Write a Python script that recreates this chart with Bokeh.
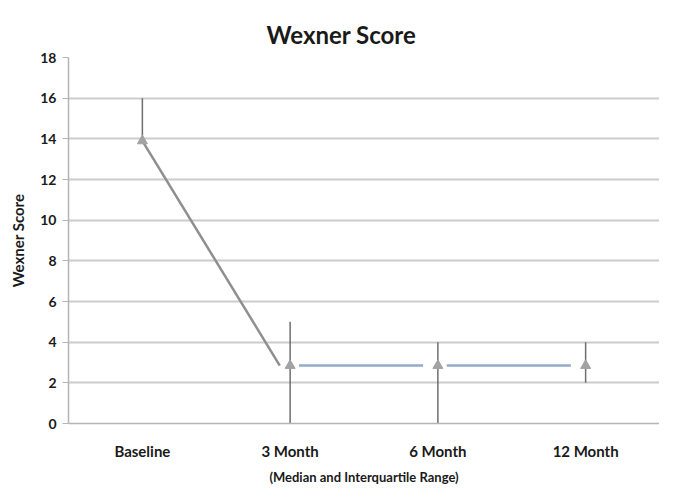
from bokeh.plotting import figure
from bokeh.models import ColumnDataSource, Title, FixedTicker, Range1d
from bokeh.transform import dodge
from bokeh.embed import file_html
from bokeh.resources import INLINE

# ---- data ----
categories = ["Baseline", "3 Month", "6 Month", "12 Month"]
median = [13.9, 2.85, 2.85, 2.85]
q1 = [13.9, 0, 0, 2]
q3 = [16, 5, 4, 4]
y_ticks = [0, 2, 4, 6, 8, 10, 12, 14, 16, 18]

FONT = "Lato"
TXT = "#1a1a1a"

p = figure(x_range=categories, y_range=Range1d(0, 18), width=659, height=487,
           output_backend="svg", toolbar_location=None,
           min_border_left=68, min_border_right=0, min_border_top=57,
           min_border_bottom=50)
p.outline_line_color = None
p.background_fill_color = "white"
p.title.visible = False

p.add_layout(Title(text="Wexner Score", text_font=FONT, text_font_size="24px",
                   text_font_style="bold", text_color=TXT, align="left",
                   offset=198, standoff=17), "above")

# grid
p.xgrid.grid_line_color = None
p.ygrid.ticker = FixedTicker(ticks=y_ticks)
p.ygrid.grid_line_color = "#cccccc"
p.ygrid.grid_line_width = 2

# axes
p.yaxis.ticker = FixedTicker(ticks=y_ticks)
p.yaxis.axis_line_color = "#b5b5b5"
p.yaxis.axis_line_width = 1.5
p.yaxis.major_tick_line_color = "#b5b5b5"
p.yaxis.major_tick_out = 6
p.yaxis.major_tick_in = 0
p.yaxis.minor_tick_line_color = None
p.yaxis.major_label_standoff = 6
p.yaxis.major_label_text_font = FONT
p.yaxis.major_label_text_font_style = "bold"
p.yaxis.major_label_text_font_size = "14px"
p.yaxis.major_label_text_color = TXT
p.yaxis.axis_label = "Wexner Score"
p.yaxis.axis_label_text_font = FONT
p.yaxis.axis_label_text_font_style = "bold"
p.yaxis.axis_label_text_font_size = "15px"
p.yaxis.axis_label_text_color = TXT
p.yaxis.axis_label_standoff = 10

p.xaxis.axis_line_color = "#b5b5b5"
p.xaxis.axis_line_width = 1.5
p.xaxis.major_tick_line_color = None
p.xaxis.minor_tick_line_color = None
p.xaxis.major_label_standoff = 12
p.xaxis.major_label_text_font = FONT
p.xaxis.major_label_text_font_style = "bold"
p.xaxis.major_label_text_font_size = "15px"
p.xaxis.major_label_text_color = TXT
p.xaxis.axis_label = "(Median and Interquartile Range)"
p.xaxis.axis_label_text_font = FONT
p.xaxis.axis_label_text_font_style = "bold"
p.xaxis.axis_label_text_font_size = "13px"
p.xaxis.axis_label_text_color = TXT
p.xaxis.axis_label_standoff = 6

# connecting lines
first = ColumnDataSource(dict(x0=categories[:1], x1=categories[1:2],
                              y0=median[:1], y1=median[1:2]))
rest = ColumnDataSource(dict(x0=categories[1:-1], x1=categories[2:],
                             y0=median[1:-1], y1=median[2:]))
p.segment(x0="x0", y0="y0", x1=dodge("x1", -0.07, range=p.x_range), y1="y1",
          source=first, line_color="#8f8f8f", line_width=2.5)
p.segment(x0=dodge("x0", 0.06, range=p.x_range), y0="y0",
          x1=dodge("x1", -0.1, range=p.x_range), y1="y1",
          source=rest, line_color="#93abc6", line_width=2.5)

# IQR whiskers
src = ColumnDataSource(dict(cat=categories, med=median, lo=q1, hi=q3))
p.segment(x0="cat", y0="lo", x1="cat", y1="hi", source=src,
          line_color="#6e6e6e", line_width=1.5)

# median markers
p.scatter(x="cat", y="med", source=src, marker="triangle", size=10,
          fill_color="#a3a3a3", line_color="#a3a3a3")

open("out.html", "w").write(file_html(p, INLINE))
